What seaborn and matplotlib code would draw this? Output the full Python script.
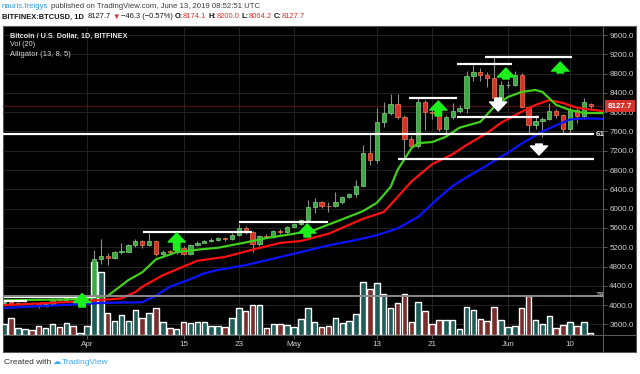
#!/usr/bin/env python3
import matplotlib
matplotlib.use("Agg")
import matplotlib.dates as mdates
import matplotlib.pyplot as plt
import matplotlib.transforms as mtransforms
import numpy as np
import pandas as pd
import seaborn as sns
from matplotlib import font_manager
from matplotlib.lines import Line2D
from matplotlib.patches import Rectangle

W, H = 640, 374

# ---- daily candles, BITFINEX:BTCUSD 1D ----
dates = pd.date_range("2019-03-20", "2019-06-13", freq="D")
opens = [4040, 4070, 4020, 4040, 4050, 4035, 3990, 4015, 4120, 4105, 4160, 4150,
         4160, 4185, 4950, 5010, 4975, 5100, 5110, 5240, 5330, 5240, 5330, 5060, 5110, 5100, 5180,
         5050, 5240, 5290, 5340, 5350, 5390, 5370, 5460, 5590, 5520, 5270, 5430, 5420, 5540, 5520,
         5620, 5680, 5770, 6040, 6140, 6060, 6050, 6140, 6240, 6300, 6470, 7150, 7010, 7800, 7980,
         8170, 7900, 7450, 7290, 8210, 8000, 7980, 7650, 7900, 8030, 8090, 8750, 8830, 8770, 8710, 8300,
         8560, 8570, 8770, 8110, 7735, 7820, 7860, 8025, 7940, 7650, 8045, 7920, 8174.1]
highs = [4090, 4100, 4060, 4070, 4060, 4050, 4030, 4140, 4130, 4200, 4180, 4170,
         4200, 5140, 5370, 5080, 5120, 5290, 5270, 5370, 5350, 5500, 5340, 5140, 5150, 5200, 5230,
         5260, 5330, 5360, 5400, 5420, 5420, 5490, 5680, 5650, 5540, 5450, 5470, 5560, 5570, 5650,
         5700, 5790, 6180, 6220, 6160, 6140, 6350, 6270, 6330, 6600, 7320, 7550, 8090, 8210, 8380,
         8380, 7950, 7500, 8300, 8250, 8100, 8050, 7950, 8200, 8150, 8850, 8980, 8920, 8830, 9140, 8650,
         8650, 8850, 8810, 8130, 7950, 7900, 8200, 8060, 7960, 8100, 8080, 8290, 8200.0]
lows = [4010, 3990, 4000, 4020, 4020, 3950, 3970, 4000, 4090, 4095, 4120, 4140,
        4140, 4170, 4850, 4830, 4960, 5050, 5100, 5200, 5180, 5220, 5020, 4990, 5080, 5070, 5030,
        5030, 5230, 5280, 5300, 5330, 5330, 5350, 5440, 5480, 5100, 5230, 5390, 5400, 5470, 5500,
        5610, 5670, 5750, 5900, 6020, 5940, 6040, 6100, 6220, 6250, 6460, 6900, 6950, 7700, 7950,
        7850, 7050, 7250, 7250, 7630, 7850, 7620, 7550, 7850, 7990, 7980, 8650, 8650, 8530, 8200, 8150,
        8500, 8540, 8080, 7560, 7650, 7490, 7830, 7870, 7550, 7560, 7780, 7850, 8064.2]
closes = [4070, 4020, 4040, 4050, 4035, 3990, 4015, 4120, 4105, 4160, 4150, 4160,
          4185, 4950, 5010, 4975, 5100, 5110, 5240, 5330, 5240, 5330, 5060, 5110, 5100, 5180, 5050,
          5240, 5290, 5340, 5350, 5390, 5370, 5460, 5590, 5520, 5270, 5430, 5420, 5540, 5520, 5620,
          5680, 5770, 6040, 6140, 6060, 6050, 6140, 6240, 6300, 6470, 7150, 7010, 7800, 7980, 8170,
          7900, 7450, 7290, 8210, 8000, 7980, 7650, 7900, 8030, 8090, 8750, 8830, 8770, 8710, 8300, 8560,
          8570, 8770, 8110, 7735, 7820, 7860, 8025, 7940, 7650, 8045, 7920, 8210, 8127.7]
# volume, thousand BTC
volume_k = [8.8, 13.6, 5.6, 4.8, 4.0, 7.2, 5.6, 8.8, 6.4, 9.6, 7.2, 1.6,
            7.2, 58.4, 50.4, 17.6, 11.2, 16.0, 11.2, 20.0, 13.6, 17.6, 21.6, 10.4, 5.6, 4.8, 10.4,
            9.6, 10.4, 10.4, 7.2, 7.2, 6.4, 13.6, 21.6, 19.2, 24.0, 24.0, 5.6, 8.8, 8.8, 8.0,
            6.4, 12.8, 21.6, 10.4, 6.4, 7.2, 13.6, 9.6, 11.2, 16.8, 42.4, 36.8, 41.6, 32.8, 21.6,
            25.6, 32.8, 10.4, 26.4, 19.2, 8.8, 12.0, 12.0, 12.0, 4.8, 22.4, 20.0, 12.8, 11.2, 22.4, 12.0,
            6.4, 7.2, 21.6, 31.2, 12.0, 8.8, 15.2, 5.6, 8.0, 10.4, 7.2, 10.4, 1.6]

# ---- Alligator (13, 8, 5) lines, read at a few dates ----
jaw_dates = ["2019-03-20", "2019-04-03", "2019-04-09", "2019-04-11", "2019-04-13", "2019-04-16",
             "2019-04-18", "2019-04-20", "2019-04-24", "2019-04-27", "2019-05-02", "2019-05-06",
             "2019-05-10", "2019-05-13", "2019-05-16", "2019-05-19", "2019-05-22", "2019-05-24",
             "2019-05-26", "2019-05-29", "2019-06-01", "2019-06-03", "2019-06-06", "2019-06-08",
             "2019-06-10", "2019-06-12", "2019-06-16"]
jaw = [3940, 4045, 4060, 4200, 4380, 4540, 4660, 4730, 4830, 4930, 5100, 5240, 5350, 5450,
       5590, 5830, 6230, 6470, 6650, 6900, 7160, 7350, 7600, 7730, 7850, 7870, 7860]
teeth_dates = ["2019-03-20", "2019-04-01", "2019-04-06", "2019-04-08", "2019-04-09", "2019-04-12",
               "2019-04-15", "2019-04-17", "2019-04-19", "2019-04-21", "2019-04-25", "2019-04-29",
               "2019-05-02", "2019-05-06", "2019-05-11", "2019-05-14", "2019-05-16", "2019-05-18",
               "2019-05-20", "2019-05-21", "2019-05-24", "2019-05-26", "2019-05-29", "2019-05-31",
               "2019-06-03", "2019-06-05", "2019-06-07", "2019-06-09", "2019-06-11", "2019-06-16"]
teeth = [4000, 4085, 4140, 4270, 4380, 4620, 4800, 4920, 4960, 5000, 5150, 5290, 5330, 5480,
         5790, 5930, 6240, 6560, 6800, 6920, 7130, 7320, 7570, 7780, 8010, 8150, 8250, 8190, 8090, 8000]
lips_dates = ["2019-03-20", "2019-03-30", "2019-04-04", "2019-04-05", "2019-04-07", "2019-04-09",
              "2019-04-11", "2019-04-14", "2019-04-17", "2019-04-20", "2019-04-24", "2019-04-27",
              "2019-05-01", "2019-05-04", "2019-05-08", "2019-05-11", "2019-05-13", "2019-05-15",
              "2019-05-16", "2019-05-18", "2019-05-19", "2019-05-21", "2019-05-23", "2019-05-25",
              "2019-05-28", "2019-05-30", "2019-06-01", "2019-06-03", "2019-06-05", "2019-06-06",
              "2019-06-08", "2019-06-10", "2019-06-12", "2019-06-16"]
lips = [4100, 4120, 4190, 4300, 4520, 4680, 4950, 5100, 5150, 5190, 5300, 5390, 5480, 5560,
        5780, 5950, 6120, 6450, 6800, 7250, 7360, 7380, 7490, 7680, 7800, 8110, 8315, 8420,
        8460, 8420, 8150, 8045, 7985, 7980]

# ---- drawn levels and arrows ----
level_prices = [4170, 4086, 5516, 5723, 8294, 8999, 9144, 7900, 7548, 7030]
level_start = ["2019-03-20", "2019-03-20", "2019-04-09 02:00", "2019-04-23", "2019-05-17 16:00",
               "2019-05-24 14:00", "2019-05-28 16:00", "2019-05-24 14:00", "2019-03-19 20:00",
               "2019-05-16 02:00"]
level_end = ["2019-04-02 06:00", "2019-03-23 08:00", "2019-04-24 22:00", "2019-05-05 22:00",
             "2019-05-24 14:00", "2019-06-01 14:00", "2019-06-10 07:00", "2019-06-05 12:00",
             "2019-06-13 12:00", "2019-06-13 12:00"]
fib_price, fib_label = 4190, "78"
level_label_price, level_label = 7548, "61"

up_dates = ["2019-03-31 07:00", "2019-04-14", "2019-05-02 22:00", "2019-05-21 22:00",
            "2019-05-31 17:00", "2019-06-08 14:00"]
up_from = [3960, 5143, 5413, 7921, 8688, 8812]
up_to = [4240, 5495, 5682, 8232, 8916, 9040]
down_dates = ["2019-05-30 14:00", "2019-06-05 12:00"]
down_from = [8294, 7340]
down_to = [8024, 7112]

price_ticks = list(range(3600, 9601, 400))
tick_dates = ["2019-04-01", "2019-04-15", "2019-04-23", "2019-05-01", "2019-05-13",
              "2019-05-21", "2019-06-01", "2019-06-10"]
tick_labels = ["Apr", "15", "23", "May", "13", "21", "Jun", "10"]
last_price = 8127.7

GREEN_UP = "#3fa845"
RED_DN = "#d8322c"
TEAL = "#1d5c57"
MAROON = "#7b2c2c"
GRID = "#232323"
AXIS_TXT = "#d0d0d0"


def fx(px):
    return px / W


def fy(py):
    return 1 - py / H


def dnum(values):
    return mdates.date2num([pd.Timestamp(v) for v in values])


def put_runs(fig, x_px, y_px, runs, size, family, target=None):
    """Place coloured text pieces one after the other; optionally fit a total width."""
    renderer = fig.canvas.get_renderer()

    def place(sz):
        x = x_px
        arts = []
        for text, color, weight, gap in runs:
            x += gap * sz * 100 / 72
            t = fig.text(fx(x), fy(y_px), text, color=color, fontsize=sz, fontweight=weight,
                         family=family, va="center", ha="left")
            x += t.get_window_extent(renderer).width
            arts.append(t)
        return x - x_px, arts

    width, arts = place(size)
    if target:
        for a in arts:
            a.remove()
        width, arts = place(size * target / width)
    return arts


sns.set_theme(style="dark")
names = {f.name for f in font_manager.fontManager.ttflist}
narrow = "Liberation Sans Narrow" in names
FONT = ["Liberation Sans Narrow" if narrow else "Liberation Sans", "DejaVu Sans"]
plt.rcParams["font.family"] = FONT
tick_size = 7.0 if narrow else 5.8

fig = plt.figure(figsize=(W / 100, H / 100), dpi=100)
fig.patch.set_facecolor("white")
fig.add_artist(Rectangle((fx(3), fy(352)), fx(636) - fx(3), fy(26) - fy(352),
                         transform=fig.transFigure, facecolor="black", edgecolor="#5a5a5a",
                         lw=0.8, zorder=0))

ax = fig.add_axes([fx(3), fy(335), fx(603) - fx(3), fy(26) - fy(335)])
axv = ax.twinx()
axv.set_zorder(1)
ax.set_zorder(2)
ax.patch.set_visible(False)
axv.patch.set_facecolor("black")

xs = mdates.date2num(dates)
x_apr1 = mdates.date2num(pd.Timestamp("2019-04-01"))
ax.set_xlim(x_apr1 - 12.17, x_apr1 + 74.78)
ax.set_ylim(3381, 9787)
tick_x = dnum(tick_dates)

# grid (behind volume)
blend = mtransforms.blended_transform_factory(axv.transAxes, ax.transData)
axv.hlines(price_ticks, 0, 1, transform=blend, color=GRID, lw=0.7, zorder=0)
axv.vlines(tick_x, 0, 1, transform=axv.get_xaxis_transform(), color=GRID, lw=0.7, zorder=0)

# volume
o = np.array(opens)
c = np.array(closes)
prev = np.concatenate([[c[0] - 1], c[:-1]])
vol_colors = np.where(c >= prev, TEAL, MAROON)
axv.bar(xs, volume_k, width=0.8, color=vol_colors, zorder=2)
axv.set_ylim(0, 247)
axv.set_yticks([])

# current price line
ax.axhline(last_price, color="#4d1212", lw=0.9, zorder=1)

# candles
ax.vlines(xs, lows, highs, color="#8e8e8e", lw=0.8, zorder=3)
body_face = np.where(c >= o, GREEN_UP, RED_DN)
body_edge = np.where(c >= o, "#7fd17f", "#f07a4c")
ax.bar(xs, np.maximum(np.abs(c - o), 14), bottom=np.minimum(o, c), width=0.62,
       color=body_face, edgecolor=body_edge, linewidth=0.5, zorder=4)

# Alligator
for d, v, col in [(jaw_dates, jaw, "#0a14ff"), (teeth_dates, teeth, "#ff1010"),
                  (lips_dates, lips, "#3fcf1c")]:
    sns.lineplot(x=dnum(d), y=v, ax=ax, color=col, linewidth=1.6, zorder=5)

# hand-drawn levels
ax.hlines(level_prices, dnum(level_start), dnum(level_end), color="white", lw=1.6, zorder=6)
ax.axhline(fib_price, color="#8a8a8a", lw=1.4, zorder=6)

# arrows
arrow_style = "simple,head_length=0.5,head_width=0.95,tail_width=0.36"
for d, a, b in zip(up_dates, up_from, up_to):
    xd = mdates.date2num(pd.Timestamp(d))
    ax.annotate("", xy=(xd, b), xytext=(xd, a), zorder=7,
                arrowprops=dict(arrowstyle=arrow_style, color="#1cf01c", shrinkA=0, shrinkB=0,
                                mutation_scale=13))
for d, a, b in zip(down_dates, down_from, down_to):
    xd = mdates.date2num(pd.Timestamp(d))
    ax.annotate("", xy=(xd, b), xytext=(xd, a), zorder=7,
                arrowprops=dict(arrowstyle=arrow_style, color="white", shrinkA=0, shrinkB=0,
                                mutation_scale=13))

# axes cosmetics
ax.set_xlabel("")
ax.set_ylabel("")
ax.yaxis.tick_right()
ax.set_yticks(price_ticks)
ax.set_yticklabels([f"{p:.1f}" for p in price_ticks])
ax.tick_params(axis="y", right=True, left=False, length=3, width=0.6, color="#6a6a6a",
               labelcolor=AXIS_TXT, labelsize=tick_size, pad=1.5)
ax.set_xticks(tick_x)
ax.set_xticklabels(tick_labels)
ax.tick_params(axis="x", bottom=True, length=3, width=0.6, color="#6a6a6a",
               labelcolor=AXIS_TXT, labelsize=tick_size, pad=1.5)
ax.grid(False)
axv.grid(False)
for a in (ax, axv):
    for s in a.spines.values():
        s.set_visible(False)
axv.tick_params(right=False, labelright=False)

fig.add_artist(Line2D([fx(603), fx(603)], [fy(26), fy(352)], transform=fig.transFigure,
                      color="#5a5a5a", lw=0.8, zorder=3))
fig.add_artist(Line2D([fx(3), fx(636)], [fy(335), fy(335)], transform=fig.transFigure,
                      color="#5a5a5a", lw=0.8, zorder=3))

# level labels
for price, lab, col in [(level_label_price, level_label, "#e8e8e8"), (fib_price, fib_label, "#9a9a9a")]:
    ypx = H - ax.transData.transform((x_apr1, price))[1]
    fig.text(fx(596), fy(ypx), lab, color=col, fontsize=tick_size, fontweight="bold",
             va="center", ha="left", zorder=8)

# last price tag
ypx = H - ax.transData.transform((x_apr1, last_price))[1]
fig.add_artist(Rectangle((fx(604.5), fy(ypx + 6)), 30 / W, 12 / H, transform=fig.transFigure,
                         facecolor="#d8322c", edgecolor="none", zorder=10))
fig.text(fx(619.5), fy(ypx), f"{last_price:.1f}", color="white", fontsize=tick_size,
         fontweight="bold", ha="center", va="center", zorder=11)

# in-chart legend
put_runs(fig, 10, 36, [("Bitcoin / U.S. Dollar, 1D, BITFINEX", "#e6e6e6", "bold", 0)], 7, FONT, 118)
put_runs(fig, 10, 45, [("Vol (20)", "#d8d8d8", "normal", 0)], 7, FONT, 25)
put_runs(fig, 10, 54, [("Alligator (13, 8, 5)", "#d8d8d8", "normal", 0)], 7, FONT, 60)

# header
put_runs(fig, 2, 7, [("nauris.treigys", "#2f9be8", "normal", 0),
                     ("published on TradingView.com, June 13, 2019 08:52:51 UTC", "#3c3c3c", "normal", 0.28)],
         7, FONT, 256)
red = "#d8322c"
ink = "#151515"
put_runs(fig, 2, 17, [("BITFINEX:BTCUSD, 1D", ink, "bold", 0),
                      ("8127.7", ink, "normal", 0.45),
                      ("▼", red, "normal", 0.2),
                      ("−46.3 (−0.57%)", ink, "normal", 0.2),
                      ("O:", ink, "bold", 0.28), ("8174.1", red, "normal", 0),
                      ("H:", ink, "bold", 0.28), ("8200.0", red, "normal", 0),
                      ("L:", ink, "bold", 0.28), ("8064.2", red, "normal", 0),
                      ("C:", ink, "bold", 0.28), ("8127.7", red, "normal", 0)],
         7, FONT, 301)

# footer
put_runs(fig, 4, 363, [("Created with", "#333333", "normal", 0),
                       ("☁", "#3fa9f5", "normal", 0.2),
                       ("TradingView", "#3fa9f5", "normal", 0.1)], 7, FONT, 104)

fig.savefig("out.png", dpi=100, facecolor="white")
